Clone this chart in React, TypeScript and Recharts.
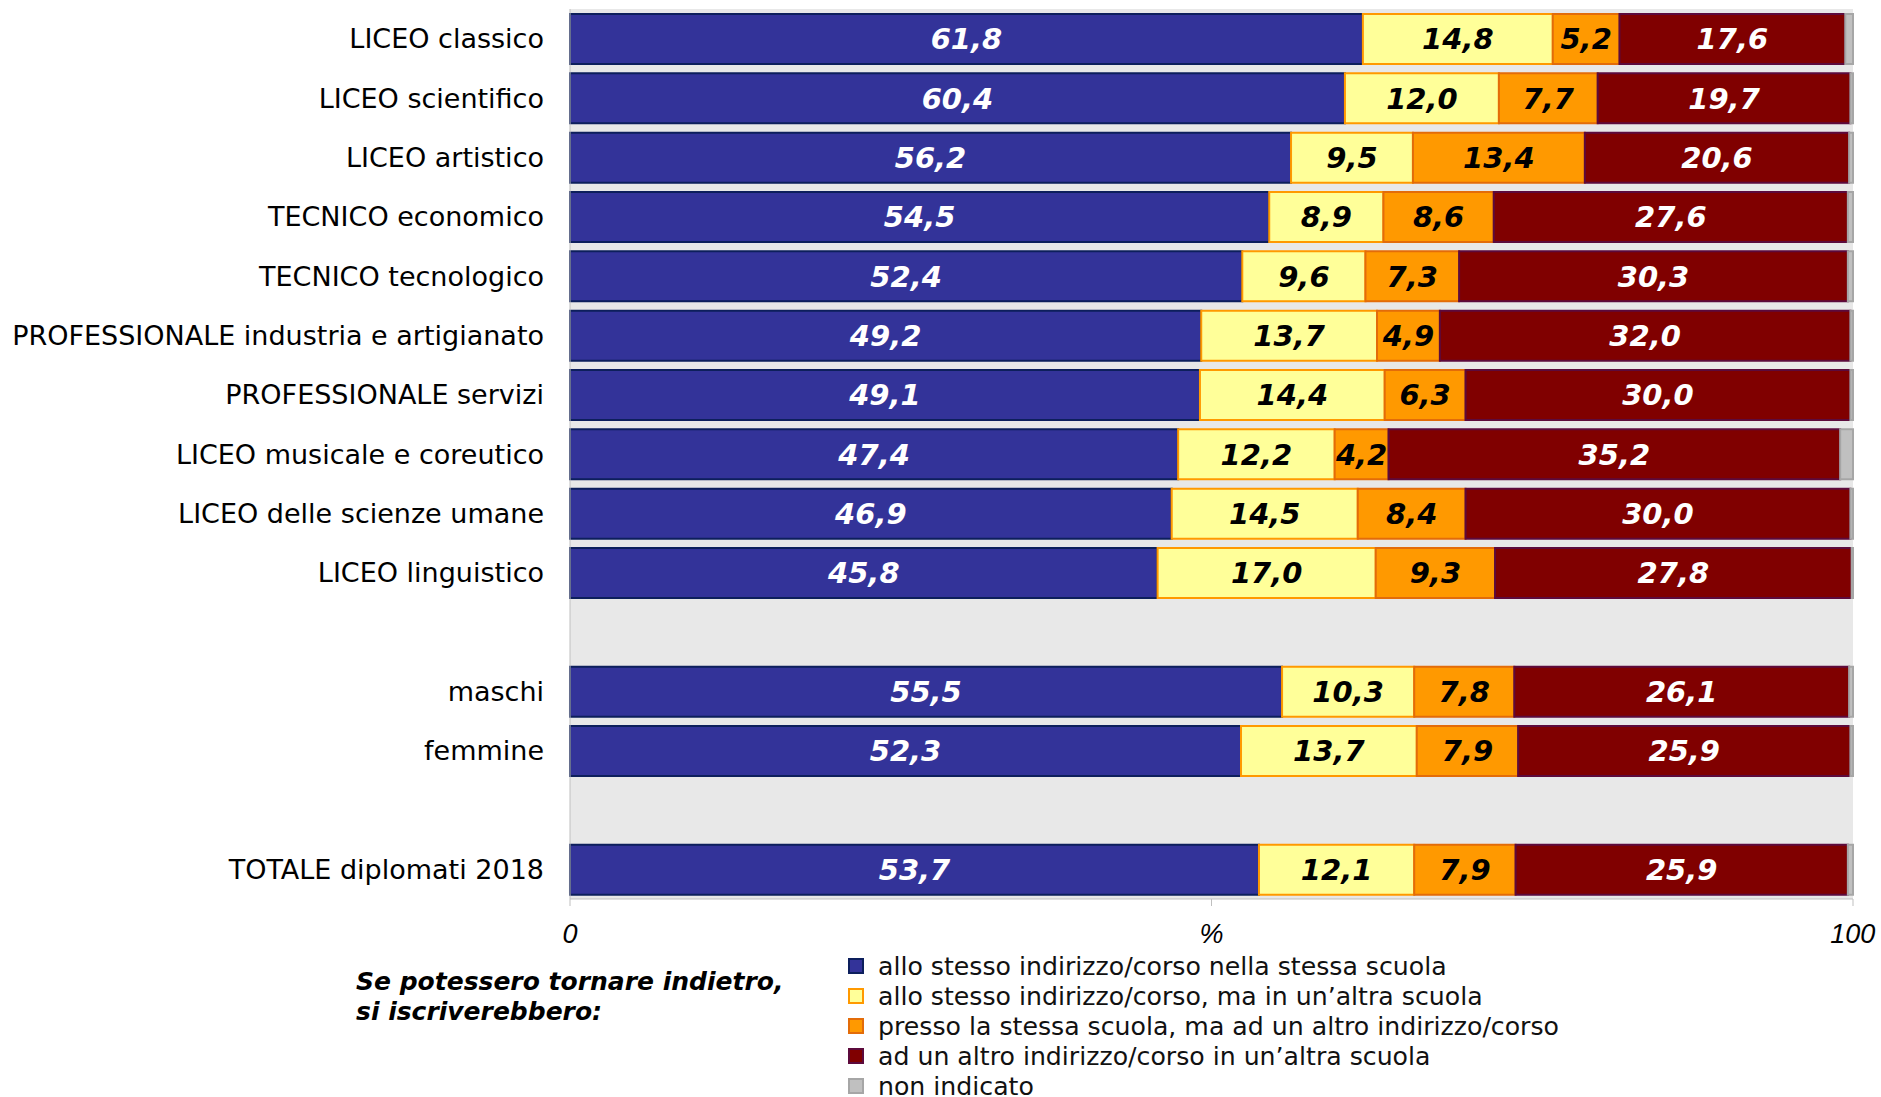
import {
  Bar,
  BarChart,
  CartesianGrid,
  LabelList,
  XAxis,
  YAxis,
} from 'recharts';

const categories = [
  'LICEO classico',
  'LICEO scientifico',
  'LICEO artistico',
  'TECNICO economico',
  'TECNICO tecnologico',
  'PROFESSIONALE industria e artigianato',
  'PROFESSIONALE servizi',
  'LICEO musicale e coreutico',
  'LICEO delle scienze umane',
  'LICEO linguistico',
  ' ',
  'maschi',
  'femmine',
  '  ',
  'TOTALE diplomati 2018',
];

const stessoCorsoStessaScuola = [61.8, 60.4, 56.2, 54.5, 52.4, 49.2, 49.1, 47.4, 46.9, 45.8, null, 55.5, 52.3, null, 53.7];
const stessoCorsoAltraScuola = [14.8, 12.0, 9.5, 8.9, 9.6, 13.7, 14.4, 12.2, 14.5, 17.0, null, 10.3, 13.7, null, 12.1];
const stessaScuolaAltroCorso = [5.2, 7.7, 13.4, 8.6, 7.3, 4.9, 6.3, 4.2, 8.4, 9.3, null, 7.8, 7.9, null, 7.9];
const altroCorsoAltraScuola = [17.6, 19.7, 20.6, 27.6, 30.3, 32.0, 30.0, 35.2, 30.0, 27.8, null, 26.1, 25.9, null, 25.9];
const nonIndicato = [0.6, 0.2, 0.3, 0.4, 0.4, 0.2, 0.2, 1.0, 0.2, 0.1, null, 0.3, 0.2, null, 0.4];

const xTicks = [0, 50, 100];
const xTickLabels = ['0', '%', '100'];

const series = [
  { key: 'a', label: 'allo stesso indirizzo/corso nella stessa scuola', values: stessoCorsoStessaScuola, fill: '#333399', stroke: '#0d1f5c', text: '#ffffff' },
  { key: 'b', label: 'allo stesso indirizzo/corso, ma in un\u2019altra scuola', values: stessoCorsoAltraScuola, fill: '#ffff99', stroke: '#ff9900', text: '#000000' },
  { key: 'c', label: 'presso la stessa scuola, ma ad un altro indirizzo/corso', values: stessaScuolaAltroCorso, fill: '#ff9900', stroke: '#e36c09', text: '#000000' },
  { key: 'd', label: 'ad un altro indirizzo/corso in un\u2019altra scuola', values: altroCorsoAltraScuola, fill: '#800000', stroke: '#5c0a3c', text: '#ffffff' },
  { key: 'e', label: 'non indicato', values: nonIndicato, fill: '#c0c0c0', stroke: '#a6a6a6', text: null },
];

const data = categories.map((name, i) => {
  const row: Record<string, string | number | null> = { name };
  series.forEach((s) => {
    row[s.key] = s.values[i];
  });
  return row;
});

const textFont = '"DejaVu Sans", sans-serif';
const formatValue = (v: unknown) =>
  typeof v === 'number' ? v.toFixed(1).replace('.', ',') : '';

export default function App() {
  return (
    <div style={{ position: 'absolute', left: 0, top: 0, width: 1881, height: 1097, background: '#fff' }}>
      <BarChart
        width={1881}
        height={960}
        data={data}
        layout="vertical"
        margin={{ top: 9, right: 28, bottom: 0, left: 0 }}
      >
        <CartesianGrid fill="#e8e8e8" stroke="none" horizontal={false} vertical={false} />
        <XAxis
          type="number"
          domain={[0, 100]}
          ticks={xTicks}
          height={61}
          tickFormatter={(v: number) => xTickLabels[xTicks.indexOf(v)]}
          axisLine={{ stroke: '#bfbfbf' }}
          tickLine={{ stroke: '#bfbfbf' }}
          tickSize={7}
          tickMargin={18}
          tick={{ fontSize: 27, fill: '#000', fontStyle: 'italic', fontFamily: '"Liberation Sans", Arial, sans-serif' }}
        />
        <YAxis
          type="category"
          dataKey="name"
          width={570}
          axisLine={{ stroke: '#bfbfbf' }}
          tickLine={false}
          tickSize={0}
          tickMargin={26}
          tick={{ fontSize: 27, fill: '#000', fontFamily: textFont }}
        />
        {series.map((s) => (
          <Bar
            key={s.key}
            dataKey={s.key}
            stackId="tot"
            fill={s.fill}
            stroke={s.stroke}
            strokeWidth={2}
            barSize={50}
            isAnimationActive={false}
          >
            {s.text && (
              <LabelList
                dataKey={s.key}
                position="center"
                formatter={formatValue}
                fill={s.text}
                style={{ fontSize: 29, fontWeight: 'bold', fontStyle: 'italic', fontFamily: textFont }}
              />
            )}
          </Bar>
        ))}
      </BarChart>

      <div
        style={{
          position: 'absolute',
          left: 356,
          top: 967,
          fontFamily: textFont,
          fontWeight: 'bold',
          fontStyle: 'italic',
          fontSize: 25,
          lineHeight: '30px',
          color: '#000',
        }}
      >
        Se potessero tornare indietro,
        <br />
        si iscriverebbero:
      </div>

      <div style={{ position: 'absolute', left: 848, top: 951, fontFamily: textFont, fontSize: 25.2, color: '#111' }}>
        {series.map((s) => (
          <div key={s.key} style={{ display: 'flex', alignItems: 'center', height: 30 }}>
            <span
              style={{
                display: 'inline-block',
                width: 12,
                height: 12,
                background: s.fill,
                border: `2px solid ${s.stroke}`,
                marginRight: 14,
              }}
            />
            <span>{s.label}</span>
          </div>
        ))}
      </div>
    </div>
  );
}
